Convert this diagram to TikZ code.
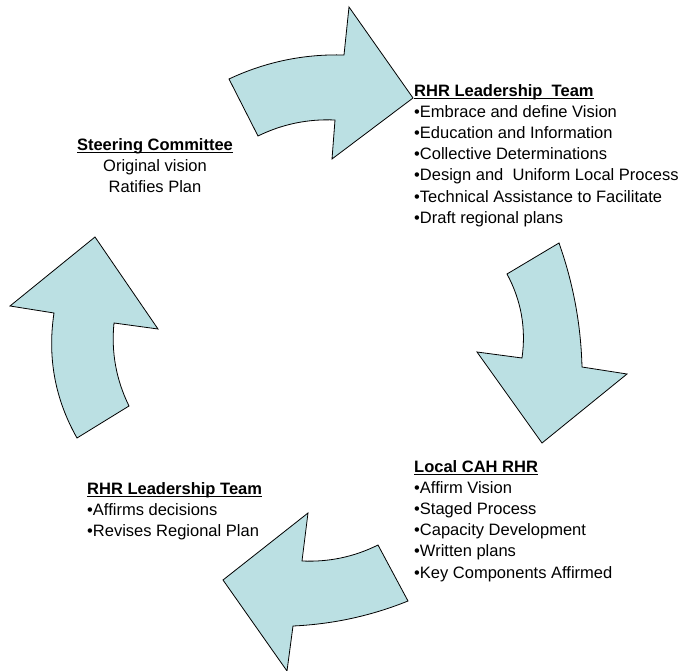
\documentclass[tikz,border=0pt]{standalone}
\usepackage{fontspec}
\setmainfont{Liberation Sans}
\definecolor{arrowfill}{RGB}{187,224,227}
\newcommand{\hd}[1]{\setbox0=\hbox{\bfseries #1}\rlap{\rule[-2.8pt]{\wd0}{1.1pt}}\box0}
\tikzset{
  blockarrow/.style={draw=black, line width=0.8pt, fill=arrowfill, line join=miter},
  txt/.style={inner sep=0pt, font=\fontsize{16.5}{21.2}\selectfont, align=left, anchor=north west}
}
\begin{document}
\begin{tikzpicture}[x=1pt, y=-1pt]
	\useasboundingbox (0,0) rectangle (678,671);
	% the four curved block arrows, clockwise from the top
	\draw[blockarrow] (229,79) .. controls (265.4,61.9) and (303.7,53.9) .. (344,55) -- (349,7) -- (413,98)
		-- (332,159) -- (335,120) .. controls (308,118.8) and (282.3,124.1) .. (258,136) -- cycle;
	\draw[blockarrow] (522,358) .. controls (526.2,328.3) and (521.2,300.3) .. (507,274) -- (559,243)
		.. controls (573.2,283.1) and (580.9,324.5) .. (582,367) -- (627,374) -- (542,443) -- (477,352) -- cycle;
	\draw[blockarrow] (302,561) .. controls (328.7,562.2) and (354.1,556.9) .. (378,545) -- (408,601)
		.. controls (371.1,615.9) and (332.7,624.2) .. (293,626) -- (287,671) -- (223,580) -- (308,513) -- cycle;
	\draw[blockarrow] (114,323) .. controls (111.1,352.1) and (116.1,379.7) .. (129,406) -- (77,438)
		.. controls (54.9,399) and (47.3,357.3) .. (54,313) -- (10,306) -- (95,237) -- (158,329) -- cycle;
	
	% text blocks
	\node[txt, align=center, anchor=north] (steering) at (155,138)
		{\hd{Steering Committee}\\ Original vision\\ Ratifies Plan};
	\node[txt] (leadtop) at (414,84)
		{\hd{RHR Leadership\ \ Team}\\ \textbullet Embrace and define Vision\\
		 \textbullet Education and Information\\ \textbullet Collective Determinations\\
		 \textbullet Design and\ \ Uniform Local Process\\
		 \textbullet Technical Assistance to Facilitate\\ \textbullet Draft regional plans};
	\node[txt] (localcah) at (414,460)
		{\hd{Local CAH RHR}\\ \textbullet Affirm Vision\\ \textbullet Staged Process\\
		 \textbullet Capacity Development\\ \textbullet Written plans\\
		 \textbullet Key Components Affirmed};
	\node[txt] (leadbot) at (87,482)
		{\hd{RHR Leadership Team}\\ \textbullet Affirms decisions\\
		 \textbullet Revises Regional Plan};
\end{tikzpicture}
\end{document}
